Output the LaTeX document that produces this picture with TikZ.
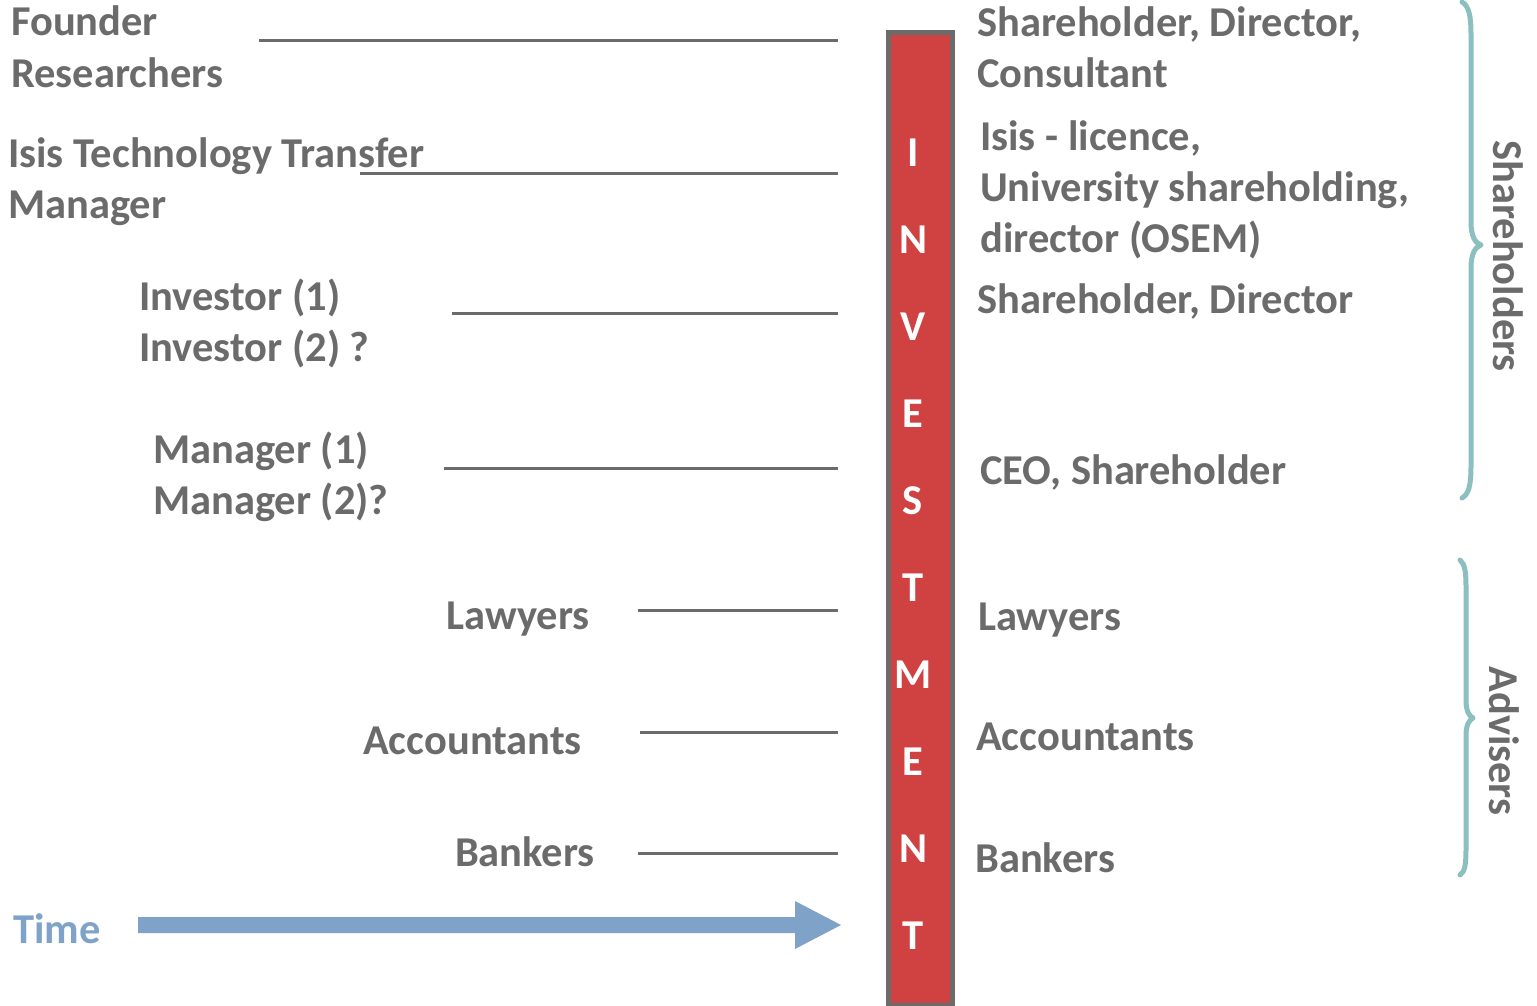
\documentclass[tikz,border=0pt]{standalone}
\usepackage{fontspec}
\setmainfont{Carlito}
\definecolor{txtgrey}{RGB}{107,107,107}
\definecolor{barred}{RGB}{208,65,65}
\definecolor{timeblue}{RGB}{127,163,200}
\definecolor{braceteal}{RGB}{140,191,191}
\begin{document}
\begin{tikzpicture}[x=1pt,y=-1pt,
  lbl/.style={font=\fontsize{42.5}{50}\selectfont\bfseries, text=txtgrey, inner sep=0pt, anchor=base west},
  lblr/.style={lbl, anchor=base east},
  barletter/.style={font=\fontsize{42.5}{50}\selectfont\bfseries, text=white, inner sep=0pt, anchor=base},
  conn/.style={draw=txtgrey, line width=3pt},
  bracestyle/.style={draw=braceteal, line width=5pt, line cap=round, line join=round},
  sidelbl/.style={font=\fontsize{42.5}{50}\selectfont\bfseries, text=txtgrey, inner sep=0pt, rotate=-90}
]
\useasboundingbox (0,0) rectangle (1537,1005);

% investment bar
\node[draw=txtgrey, line width=5pt, fill=barred, inner sep=0pt, minimum width=64pt, minimum height=972.5pt, anchor=north west] (bar) at (885.5,30) {};
\foreach \L [count=\i from 0] in {I,N,V,E,S,T,M,E,N,T}{
  \node[barletter] (bl\i) at (913,{166+87*\i}) {\L};
}

% left labels
\node[lbl] (founder) at (11,35) {Founder};
\node[lbl] (researchers) at (11,87) {Researchers};
\node[lbl] (isis1) at (8,167) {Isis Technology Transfer};
\node[lbl] (isis2) at (8,218) {Manager};
\node[lbl] (inv1) at (139,310) {Investor (1)};
\node[lbl] (inv2) at (139,361) {Investor (2) ?};
\node[lbl] (man1) at (153,463) {Manager (1)};
\node[lbl] (man2) at (153,514) {Manager (2)?};
\node[lblr] (lawL) at (590,629) {Lawyers};
\node[lblr] (accL) at (582,754) {Accountants};
\node[lblr] (bankL) at (595,866) {Bankers};
\node[lbl, text=timeblue] (time) at (13,943) {Time};

% right labels
\node[lbl] (r1a) at (977,36) {Shareholder, Director,};
\node[lbl] (r1b) at (977,87) {Consultant};
\node[lbl] (r2a) at (980,150) {Isis - licence,};
\node[lbl] (r2b) at (980,201) {University shareholding,};
\node[lbl] (r2c) at (980,252) {director (OSEM)};
\node[lbl] (r3) at (977,313) {Shareholder, Director};
\node[lbl] (r4) at (980,484) {CEO, Shareholder};
\node[lbl] (r5) at (978,630) {Lawyers};
\node[lbl] (r6) at (976,750) {Accountants};
\node[lbl] (r7) at (975,872) {Bankers};

% connector lines
\coordinate (c1a) at (259,40);  \coordinate (c1b) at (838,40);
\coordinate (c2a) at (360,173); \coordinate (c2b) at (838,173);
\coordinate (c3a) at (452,313); \coordinate (c3b) at (838,313);
\coordinate (c4a) at (444,468); \coordinate (c4b) at (838,468);
\coordinate (c5a) at (638,610); \coordinate (c5b) at (838,610);
\coordinate (c6a) at (640,732); \coordinate (c6b) at (838,732);
\coordinate (c7a) at (638,853); \coordinate (c7b) at (838,853);
\foreach \k in {1,...,7}{ \draw[conn] (c\k a) -- (c\k b); }

% time arrow
\fill[timeblue] (138,917) -- (795,917) -- (795,901) -- (841,925) -- (795,949) -- (795,933) -- (138,933) -- cycle;

% braces
\draw[bracestyle] (1462,2) .. controls (1469,6) and (1471,16) .. (1471,35) -- (1471,222)
  .. controls (1471,236) and (1475,243) .. (1481,245)
  .. controls (1475,247) and (1471,254) .. (1471,268) -- (1471,465)
  .. controls (1471,485) and (1469,494) .. (1462,498);
\draw[bracestyle] (1460,560) .. controls (1465,564) and (1466,572) .. (1466,588) -- (1466,700)
  .. controls (1466,711) and (1469,716) .. (1473,718)
  .. controls (1469,720) and (1466,725) .. (1466,736) -- (1466,848)
  .. controls (1466,864) and (1465,872) .. (1460,875);
\node[sidelbl] (shareholders) at (1508,256) {Shareholders};
\node[sidelbl] (advisers) at (1504,741) {Advisers};
\end{tikzpicture}
\end{document}
